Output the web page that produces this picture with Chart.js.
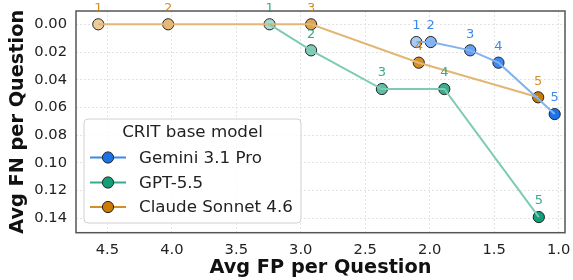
<!DOCTYPE html>
<html>
<head>
<meta charset="utf-8">
<script src="https://cdn.jsdelivr.net/npm/chart.js@4.4.0/dist/chart.umd.min.js"></script>
<style>
  html, body { margin: 0; padding: 0; background: #fff; }
  #wrap { width: 573px; height: 280px; }
</style>
</head>
<body>
<div id="wrap"><canvas id="c" width="573" height="280"></canvas></div>
<script>
// ---- Data ----
const seriesNames = ['Gemini 3.1 Pro', 'GPT-5.5', 'Claude Sonnet 4.6'];
const fpGemini = [2.104, 1.992, 1.686, 1.467, 1.031];
const fnGemini = [0.0128, 0.0128, 0.0188, 0.0277, 0.0648];
const fpGpt    = [3.242, 2.920, 2.371, 1.887, 1.154];
const fnGpt    = [0.0000, 0.0188, 0.0467, 0.0467, 0.1391];
const fpClaude = [4.570, 4.028, 2.920, 2.085, 1.159];
const fnClaude = [0.0000, 0.0000, 0.0000, 0.0277, 0.0527];
const pointLabels = ['1', '2', '3', '4', '5'];
const xTicks = [4.5, 4.0, 3.5, 3.0, 2.5, 2.0, 1.5, 1.0];
const yTicks = [0.00, 0.02, 0.04, 0.06, 0.08, 0.10, 0.12, 0.14];

// ---- Styling ----
const baseColors = [[26, 115, 232], [18, 158, 120], [204, 122, 0]];
const alphas = [0.38, 0.53, 0.68, 0.84, 1.0];
function tint(rgb, a) {
  const c = rgb.map(v => Math.round(255 - a * (255 - v)));
  return `rgb(${c[0]},${c[1]},${c[2]})`;
}
function rgba(rgb, a) { return `rgba(${rgb[0]},${rgb[1]},${rgb[2]},${a})`; }

const FONT = "'DejaVu Sans', sans-serif";
const xs = [fpGemini, fpGpt, fpClaude];
const ys = [fnGemini, fnGpt, fnClaude];
const toPts = (x, y) => x.map((v, i) => ({ x: v, y: y[i] }));

const datasets = [];
// lines first (below all markers)
for (let s = 0; s < 3; s++) {
  datasets.push({
    label: seriesNames[s] + ' line',
    data: toPts(xs[s], ys[s]),
    borderColor: tint(baseColors[s], 0.55),
    borderWidth: 2,
    pointRadius: 0,
    pointHoverRadius: 0,
    showLine: true,
    fill: false,
    isLine: true
  });
}
for (let s = 0; s < 3; s++) {
  datasets.push({
    label: seriesNames[s],
    data: toPts(xs[s], ys[s]),
    showLine: false,
    pointRadius: 5.6,
    pointBorderWidth: 1,
    pointBorderColor: '#222',
    pointBackgroundColor: alphas.map(a => tint(baseColors[s], a)),
    seriesIndex: s
  });
}

const framePlugin = {
  id: 'frame',
  beforeDatasetsDraw(chart) {
    const a = chart.chartArea, ctx = chart.ctx;
    ctx.save();
    ctx.strokeStyle = '#555';
    ctx.lineWidth = 1.5;
    ctx.strokeRect(a.left, a.top, a.right - a.left, a.bottom - a.top);
    ctx.restore();
  }
};

const labelPlugin = {
  id: 'ptlabels',
  afterDatasetsDraw(chart) {
    const ctx = chart.ctx;
    ctx.save();
    ctx.font = `13px ${FONT}`;
    ctx.textAlign = 'center';
    ctx.textBaseline = 'middle';
    chart.data.datasets.forEach((ds, di) => {
      if (ds.isLine) return;
      const meta = chart.getDatasetMeta(di);
      ctx.fillStyle = rgba(baseColors[ds.seriesIndex], 0.85);
      meta.data.forEach((el, i) => {
        ctx.fillText(pointLabels[i], el.x, el.y - 16);
      });
    });
    ctx.restore();
  }
};

const legendPlugin = {
  id: 'boxlegend',
  afterDraw(chart) {
    const ctx = chart.ctx;
    const x0 = 84, y0 = 119, w = 217, h = 104, r = 4;
    ctx.save();
    ctx.beginPath();
    ctx.moveTo(x0 + r, y0);
    ctx.arcTo(x0 + w, y0, x0 + w, y0 + h, r);
    ctx.arcTo(x0 + w, y0 + h, x0, y0 + h, r);
    ctx.arcTo(x0, y0 + h, x0, y0, r);
    ctx.arcTo(x0, y0, x0 + w, y0, r);
    ctx.closePath();
    ctx.fillStyle = 'rgba(255,255,255,0.85)';
    ctx.fill();
    ctx.strokeStyle = '#d0d0d0';
    ctx.lineWidth = 1;
    ctx.stroke();
    ctx.fillStyle = '#222';
    ctx.font = `16.7px ${FONT}`;
    ctx.textBaseline = 'middle';
    ctx.textAlign = 'center';
    ctx.fillText('CRIT base model', x0 + w / 2, 133);
    ctx.textAlign = 'left';
    const rows = [157.5, 182.5, 207];
    for (let s = 0; s < 3; s++) {
      const y = rows[s];
      ctx.strokeStyle = rgba(baseColors[s], 0.85);
      ctx.lineWidth = 2;
      ctx.beginPath();
      ctx.moveTo(90, y); ctx.lineTo(126, y); ctx.stroke();
      ctx.beginPath();
      ctx.arc(108, y, 5.6, 0, Math.PI * 2);
      ctx.fillStyle = tint(baseColors[s], 1);
      ctx.fill();
      ctx.strokeStyle = '#222';
      ctx.lineWidth = 1;
      ctx.stroke();
      ctx.fillStyle = '#222';
      ctx.fillText(seriesNames[s], 139, y + 1);
    }
    ctx.restore();
  }
};

new Chart(document.getElementById('c'), {
  type: 'scatter',
  data: { datasets },
  plugins: [framePlugin, labelPlugin, legendPlugin],
  options: {
    responsive: false,
    animation: false,
    events: [],
    layout: { padding: { top: 11, right: 8, left: 6, bottom: 0 } },
    plugins: { legend: { display: false }, tooltip: { enabled: false } },
    scales: {
      x: {
        type: 'linear',
        reverse: true,
        min: 0.951,
        max: 4.743,
        afterFit(scale) { scale.height = 47.3; scale.paddingLeft = 0; scale.paddingRight = 0; },
        afterBuildTicks(scale) { scale.ticks = xTicks.map(v => ({ value: v })); },
        ticks: {
          padding: 9,
          color: '#222',
          font: { family: FONT, size: 14.7 },
          callback: v => Number(v).toFixed(1),
          maxRotation: 0,
          autoSkip: false
        },
        grid: { color: '#e2e2e2', lineWidth: 1, drawTicks: false },
        border: { display: false, dash: [2, 2] },
        title: {
          display: true,
          text: 'Avg FP per Question',
          color: '#111',
          font: { family: FONT, size: 19.3, weight: 'bold' },
          padding: { top: 0, bottom: 0 }
        }
      },
      y: {
        type: 'linear',
        reverse: true,
        min: -0.0096,
        max: 0.1504,
        afterFit(scale) { scale.width = 70; scale.paddingTop = 0; scale.paddingBottom = 0; },
        afterBuildTicks(scale) { scale.ticks = yTicks.map(v => ({ value: v })); },
        ticks: {
          padding: 9,
          color: '#222',
          font: { family: FONT, size: 14.7 },
          callback: v => Number(v).toFixed(2),
          autoSkip: false
        },
        grid: { color: '#e2e2e2', lineWidth: 1, drawTicks: false },
        border: { display: false, dash: [2, 2] },
        title: {
          display: true,
          text: 'Avg FN per Question',
          color: '#111',
          font: { family: FONT, size: 19.3, weight: 'bold' },
          padding: { top: 0, bottom: 0 }
        }
      }
    }
  }
});
</script>
</body>
</html>
